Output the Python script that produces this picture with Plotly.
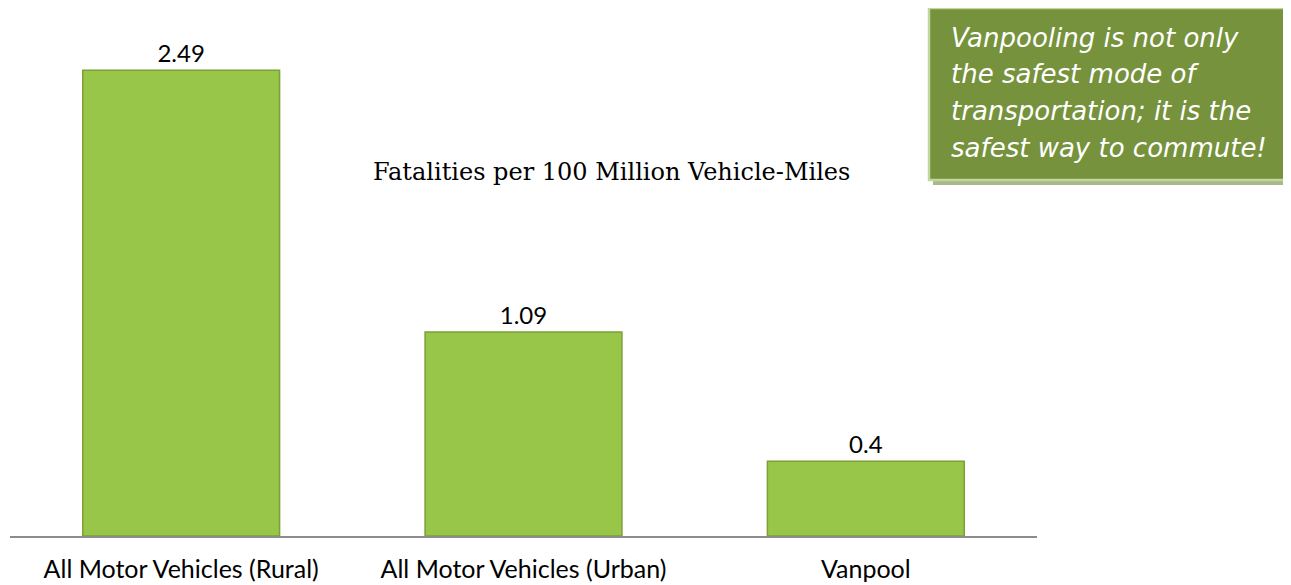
import plotly.graph_objects as go

categories = ["All Motor Vehicles (Rural)", "All Motor Vehicles (Urban)", "Vanpool"]
values = [2.49, 1.09, 0.4]
value_labels = ["2.49", "1.09", "0.4"]
chart_title = "Fatalities per 100 Million Vehicle-Miles"
callout_lines = ["Vanpooling is not only", "the safest mode of",
                 "transportation; it is the", "safest way to commute!"]

# page has an 8px body margin; plot area spans page x 10..1037, y 20..536
FW, FH = 1283, 577
L, T, W, H = 10, 20, 1027, 516

def px(x):
    return (x - L) / W

def py(y):
    return (T + H - y) / H

fig = go.Figure()
fig.add_trace(go.Bar(
    x=categories, y=values, text=value_labels, textposition="outside",
    textfont=dict(family="Lato, Open Sans, sans-serif", size=24, color="#000000"),
    marker=dict(color="#98C648", line=dict(color="#7E9E36", width=1.5)),
    cliponaxis=False,
))

annotations = [
    dict(text=chart_title, xref="paper", yref="paper", x=px(611), y=py(172),
         showarrow=False, xanchor="center", yanchor="middle",
         font=dict(family="DejaVu Serif, Liberation Serif, serif", size=24, color="#000000")),
]
for i, line in enumerate(callout_lines):
    annotations.append(dict(
        text="<i>" + line + "</i>", xref="paper", yref="paper",
        x=px(949), y=py(38 + 36.5 * i), showarrow=False, xanchor="left", yanchor="middle",
        align="left", font=dict(family="DejaVu Sans, Verdana, sans-serif", size=26, color="#ffffff")))

fig.update_layout(
    width=FW, height=FH,
    margin=dict(l=L - 8, r=FW - (L - 8) - W, t=T - 8, b=FH - (T - 8) - H),
    plot_bgcolor="white", paper_bgcolor="white",
    bargap=0.425, showlegend=False,
    xaxis=dict(showline=True, linecolor="#8c8c8c", linewidth=1.5, ticks="",
               automargin=False,
               tickfont=dict(family="Lato, Open Sans, sans-serif", size=25, color="#000000"),
               ticklabelstandoff=10),
    yaxis=dict(range=[0, 2.758], visible=False, showgrid=False, automargin=False),
    annotations=annotations,
    shapes=[
        dict(type="rect", xref="paper", yref="paper", x0=px(933), x1=px(1310),
             y0=py(185), y1=py(13), fillcolor="#A9B88C", line=dict(width=0), layer="below"),
        dict(type="rect", xref="paper", yref="paper", x0=px(929), x1=px(1310),
             y0=py(180), y1=py(8), fillcolor="#76923C",
             line=dict(color="#C3D69B", width=2.5), layer="below"),
    ],
)

fig.write_html("out.html")
